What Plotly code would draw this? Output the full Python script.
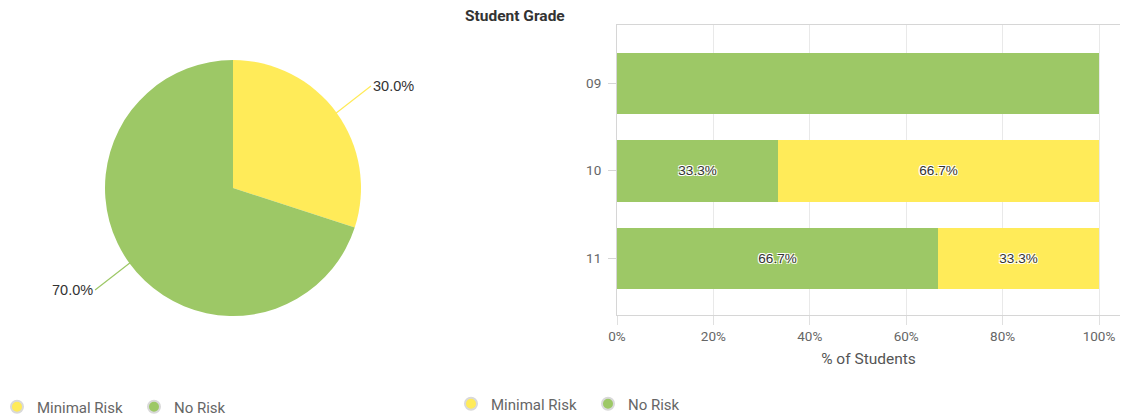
import math
import plotly.graph_objects as go

# ---- data ----
risk_levels = ["Minimal Risk", "No Risk"]
pie_values = [30.0, 70.0]
grades = ["09", "10", "11"]
no_risk_pct = [100.0, 33.3, 66.7]
minimal_risk_pct = [0.0, 66.7, 33.3]
x_tick_vals = [0, 20, 40, 60, 80, 100]

YELLOW = "#FFEB59"
GREEN = "#9DC866"
colors = {"Minimal Risk": YELLOW, "No Risk": GREEN}

OFF = 8  # page body margin
W, H = 1134 - OFF, 419 - OFF


def fx(px):  # screen px -> paper x
    return (px - OFF) / W


def fy(py):  # screen px -> paper y
    return 1 - (py - OFF) / H


def lbl(v):
    return f"{v:.1f}%" if 0 < v < 100 else ""


fig = go.Figure()

# ---- pie ----
pie_cx, pie_cy, pie_r = 233, 188, 128
fig.add_trace(go.Pie(
    labels=risk_levels, values=pie_values,
    marker=dict(colors=[colors[k] for k in risk_levels], line=dict(width=0)),
    sort=False, direction="clockwise", rotation=0,
    textinfo="none", hoverinfo="label+percent", showlegend=False,
    domain=dict(x=[fx(pie_cx - pie_r), fx(pie_cx + pie_r)],
                y=[fy(pie_cy + pie_r), fy(pie_cy - pie_r)]),
))

# pie labels with connector lines
total = sum(pie_values)
cum = 0.0
for name, v in zip(risk_levels, pie_values):
    mid = (cum + v / 2) / total
    cum += v
    th = 2 * math.pi * mid
    px = pie_cx + (pie_r - 2) * math.sin(th)
    py = pie_cy - (pie_r - 2) * math.cos(th)
    sx = 1 if math.sin(th) >= 0 else -1
    sy = -1 if math.cos(th) >= 0 else 1
    fig.add_annotation(
        x=fx(px), y=fy(py), xref="paper", yref="paper",
        text=f"{v / total * 100:.1f}%", showarrow=True, arrowhead=0,
        arrowwidth=1.2, arrowcolor=colors[name],
        ax=36 * sx, ay=28 * sy,
        xanchor="left" if sx > 0 else "right",
        font=dict(family="Liberation Sans, Arial", size=14.5, color="#333333"),
    )

# ---- stacked bars ----
shadow = "-1px -1px 0 #fff, 1px -1px 0 #fff, -1px 1px 0 #fff, 1px 1px 0 #fff"
for name, vals in [("No Risk", no_risk_pct), ("Minimal Risk", minimal_risk_pct)]:
    fig.add_trace(go.Bar(
        y=grades, x=vals, orientation="h", name=name,
        marker=dict(color=colors[name], line=dict(width=0)),
        width=0.7, text=[lbl(v) for v in vals], textposition="inside",
        insidetextanchor="middle", textangle=0, constraintext="none",
        textfont=dict(family="Liberation Sans, Arial", size=13.5, color="#333333",
                      shadow=shadow),
        showlegend=False, xaxis="x", yaxis="y",
    ))

# ---- legend dummy traces ----
for lg in ["legend", "legend2"]:
    for name in risk_levels:
        fig.add_trace(go.Scatter(
            x=[None], y=[None], mode="markers", name=name, legend=lg,
            marker=dict(symbol="circle", size=13, color=colors[name],
                        line=dict(color="#d9d9d9", width=2)),
            xaxis="x", yaxis="y", hoverinfo="skip",
        ))

legend_common = dict(orientation="h", font=dict(family="Roboto", size=15, color="#666666"),
                     itemsizing="constant", entrywidth=92, entrywidthmode="pixels",
                     traceorder="normal",
                     bgcolor="rgba(0,0,0,0)", yanchor="middle", xanchor="left")

x0, x100, xr = 617, 1099, 1120
ppu = (x100 - x0) / 100
y_top, y_bot = 24.5, 314.5
c_first, c_last = 83, 258
step = (c_last - c_first) / 2

fig.update_layout(
    width=W, height=H, autosize=False,
    margin=dict(l=0, r=0, t=0, b=0, autoexpand=False),
    paper_bgcolor="white", plot_bgcolor="white",
    font=dict(family="Roboto", color="#666666", size=13),
    barmode="stack", bargap=0,
    xaxis=dict(
        domain=[fx(x0), fx(xr)], range=[0, (xr - x0) / ppu],
        tickmode="array", tickvals=x_tick_vals,
        ticktext=[f"{v}%" for v in x_tick_vals],
        showgrid=True, gridcolor="#e9e9e9", gridwidth=1, zeroline=False,
        showline=True, linecolor="#d6d6d6", linewidth=1, mirror=True,
        ticks="outside", ticklen=9, tickcolor="#e0e0e0",
        tickfont=dict(size=13.5, color="#666666"),
        title=dict(text="% of Students", standoff=10,
                   font=dict(size=15.5, color="#555555")),
    ),
    yaxis=dict(
        domain=[fy(y_bot), fy(y_top)], type="category",
        range=[(y_bot - c_first) / step, -(c_first - y_top) / step],
        showgrid=False, zeroline=False,
        showline=True, linecolor="#d6d6d6", linewidth=1,
        ticks="outside", ticklen=8, tickcolor="#d6d6d6", ticklabelstandoff=4,
        tickfont=dict(size=13.5, color="#666666"),
    ),
    legend=dict(x=fx(-3), y=fy(407), **legend_common),
    legend2=dict(x=fx(451), y=fy(404), **legend_common),
)

fig.add_annotation(
    x=fx(463), y=fy(16), xref="paper", yref="paper", xanchor="left", yanchor="middle",
    text="<b>Student Grade</b>", showarrow=False,
    font=dict(family="Roboto", size=15.5, color="#333333"),
)

fig.write_html("out.html")
